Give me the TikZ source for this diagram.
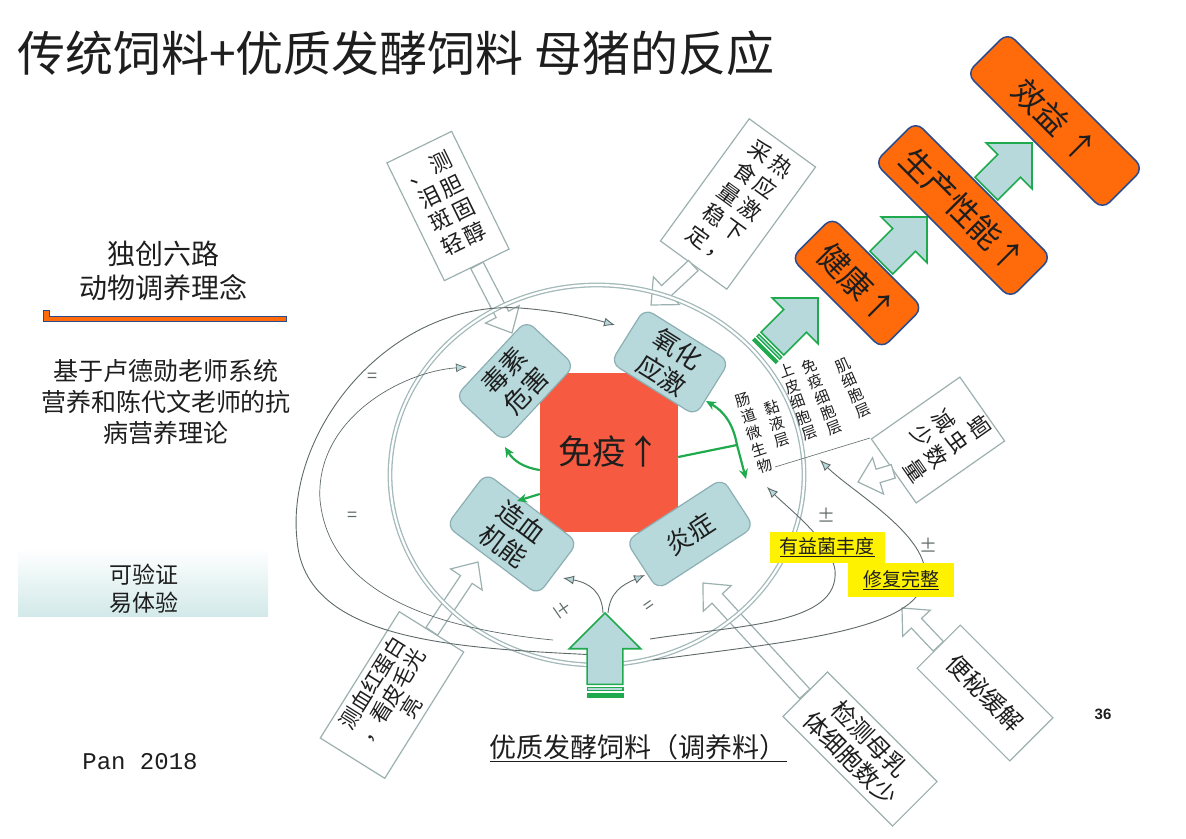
\documentclass[tikz,border=0pt]{standalone}
\usepackage{fontspec}
\setmainfont{Noto Sans CJK SC}
\newfontfamily\monofont{Liberation Mono}
\newfontfamily\numfont{Liberation Sans}
\usetikzlibrary{arrows.meta,calc,positioning}
\definecolor{textblack}{HTML}{1E1E1E}
\definecolor{boxfill}{HTML}{B7D9DC}
\definecolor{boxdraw}{HTML}{8CAFB3}
\definecolor{ringcol}{HTML}{A3B9BA}
\definecolor{callgray}{HTML}{9DB0B0}
\definecolor{curvegray}{HTML}{5F6969}
\definecolor{arrowgreen}{HTML}{1FAA4E}
\definecolor{immunered}{HTML}{F65A40}
\definecolor{outorange}{HTML}{FF6A0A}
\definecolor{outnavy}{HTML}{2B4C8C}
\definecolor{tealfade}{HTML}{D3E9E9}

% hollow block arrow from a callout box to its target
\newcommand{\calloutarrow}[2]{%
  \coordinate (#2-base) at ($(#2)!21pt!(#1)$);
  \draw[callshape] ($(#1)!7pt!90:(#2)$) -- ($(#2-base)!7pt!-90:(#1)$) -- ($(#2-base)!19pt!-90:(#1)$)
    -- (#2) -- ($(#2-base)!19pt!90:(#1)$) -- ($(#2-base)!7pt!90:(#1)$) -- ($(#1)!7pt!-90:(#2)$) -- cycle;
}

\begin{document}
\begin{tikzpicture}[x=1pt, y=-1pt,
    txt/.style={text=textblack, inner sep=0pt},
    callbox/.style={draw=callgray, fill=white, line width=1.2pt, inner sep=1pt, text=textblack},
    callshape/.style={draw=callgray, fill=white, line width=1.2pt, line join=miter},
    factor/.style={rounded corners=10pt, fill=boxfill, draw=boxdraw, line width=1.2pt, align=center, text=textblack, font=\fontsize{26}{30}\selectfont},
    outcome/.style={rounded corners=10pt, fill=outorange, draw=outnavy, line width=1.5pt, rotate=-45, text=textblack, minimum height=58pt, font=\fontsize{32}{32}\selectfont},
    ring/.style={draw=ringcol, line width=1.3pt, double=white, double distance=2.2pt},
    flow/.style={draw=curvegray, line width=0.9pt, -{Latex[length=11pt,width=9pt,fill=boxfill]}},
    greenline/.style={draw=arrowgreen, line width=2.2pt},
    greenarrow/.style={greenline, -{Stealth[length=10pt,width=9pt]}},
    layerlbl/.style={align=center, inner sep=0pt, text=textblack, font=\fontsize{15}{16.5}\selectfont},
    signlbl/.style={text=curvegray, inner sep=0pt, font=\fontsize{18}{18}\selectfont},
    hilite/.style={fill=yellow, text=textblack, minimum width=115pt, minimum height=31pt, font=\fontsize{19}{19}\selectfont},
    stripe arrow/.pic={
      \draw[draw=arrowgreen, fill=boxfill, line width=1.6pt] (0,0) -- (-34,34) -- (-34,17) -- (-68,17) -- (-68,-17) -- (-34,-17) -- (-34,-34) -- cycle;
      \draw[draw=arrowgreen, fill=boxfill, line width=1.3pt] (-71,17) rectangle (-74,-17);
      \draw[draw=arrowgreen, fill=arrowgreen, line width=1.3pt] (-77,17) rectangle (-80,-17);
    }
]
\useasboundingbox (0,0) rectangle (1186,838);

% title and side notes
\node[txt, anchor=west, font=\fontsize{48}{48}\selectfont] (title) at (17,53) {传统饲料+优质发酵饲料 母猪的反应};
\node[txt, align=center, font=\fontsize{28}{34}\selectfont] (idea) at (163,271) {独创六路\\动物调养理念};
\draw[fill=outorange, draw=outnavy, line width=0.8pt] (43,310) -- (43,321) -- (286,321) -- (286,316) -- (49,316) -- (49,310) -- cycle;
\node[txt, align=center, font=\fontsize{25}{31}\selectfont] (theory) at (166,402) {基于卢德勋老师系统\\营养和陈代文老师的抗\\病营养理论};
\shade[top color=white, bottom color=tealfade] (18,548) rectangle (268,616);
\node[txt, align=center, font=\fontsize{23}{28}\selectfont] (verify) at (144,589) {可验证\\易体验};
\node[txt, font=\monofont\fontsize{24}{24}\selectfont] (year) at (140,762) {Pan 2018};
\node[txt, font=\numfont\bfseries\fontsize{15}{15}\selectfont] (page) at (1103,714) {36};

% callout boxes
\node[callbox, rotate=26, minimum width=72pt, minimum height=131pt, font=\fontsize{22}{26}\selectfont] (lipid) at (448,206)
  {\begin{tabular}{@{}c@{\hspace{3pt}}c@{}}、&测\\泪&胆\\斑&固\\轻&醇\end{tabular}};
\coordinate (lipidtip) at (512,333);
\calloutarrow{lipid.south}{lipidtip}

\node[callbox, rotate=-36, minimum width=82pt, minimum height=151pt, font=\fontsize{22}{26}\selectfont] (heat) at (738,204)
  {\begin{tabular}{@{}c@{\hspace{3pt}}c@{}}采&热\\食&应\\量&激\\稳&下\\定&，\end{tabular}};
\coordinate (heattip) at (651,305);
\calloutarrow{heat.south}{heattip}

\node[callbox, rotate=-55, minimum width=78pt, minimum height=108pt, font=\fontsize{22}{25}\selectfont] (worm) at (938,440)
  {\begin{tabular}{@{}c@{\hspace{3pt}}c@{}}&蛔\\减&虫\\少&数\\&量\end{tabular}};
\coordinate (wormtip) at (858,482);
\calloutarrow{worm.south}{wormtip}

\node[callbox, rotate=58, minimum width=149pt, minimum height=76pt, align=center, font=\fontsize{21}{23}\selectfont] (blood) at (392,695)
  {测血红蛋白\\，看皮毛光\\亮};
\coordinate (bloodtip) at (478,562);
\calloutarrow{blood.east}{bloodtip}

\node[callbox, rotate=-45, minimum width=155pt, minimum height=63pt, align=center, font=\fontsize{24}{28}\selectfont] (milk) at (860,749)
  {检测母乳\\体细胞数少};
\coordinate (milktip) at (703,583);
\calloutarrow{milk.west}{milktip}

\node[callbox, rotate=-45, minimum width=131pt, minimum height=61pt, font=\fontsize{24}{24}\selectfont] (bowel) at (985,693) {便秘缓解};
\coordinate (boweltip) at (902,608);
\calloutarrow{bowel.west}{boweltip}

% body ring
\draw[ring] (597,475) ellipse [x radius=207pt, y radius=190pt];

% feedback curves
\coordinate (feedL1) at (598,655);
\coordinate (feedL2) at (553,640);
\coordinate (feedR1) at (650,639);
\coordinate (feedR2) at (653,660);
\coordinate (feedtip) at (603,613);
\coordinate (oxiin) at (615,325);
\coordinate (toxin) at (467,367);
\coordinate (gutin1) at (767,487);
\coordinate (gutin2) at (820,460);
\coordinate (hemain) at (563,578);
\coordinate (inflin) at (645,575);
\draw[flow] (feedL1) .. controls (450,648) and (305,640) .. (297,540) .. controls (285,430) and (390,300) .. (520,308) .. controls (560,311) and (590,318) .. (oxiin);
\draw[flow, line width=0.7pt] (feedL2) .. controls (450,630) and (330,600) .. (320,500) .. controls (315,420) and (400,372) .. (toxin);
\draw[flow] (feedR1) .. controls (740,625) and (840,625) .. (835,570) .. controls (830,540) and (790,510) .. (gutin1);
\draw[flow] (feedR2) .. controls (800,640) and (930,630) .. (925,570) .. controls (920,530) and (850,490) .. (gutin2);
\draw[flow] (feedtip) .. controls (602,592) and (590,583) .. (hemain);
\draw[flow] ([xshift=5pt]feedtip) .. controls (610,592) and (622,585) .. (inflin);

\node[signlbl] (eqa) at (372,378) {=};
\node[signlbl] (eqb) at (352,517) {=};
\node[signlbl, rotate=-55] (pma) at (563,610) {±};
\node[signlbl, rotate=35] (eqc) at (650,607) {=};
\node[signlbl] (pmb) at (826,515) {±};
\node[signlbl] (pmc) at (928,545) {±};

% immune core and its four factors
\node[fill=immunered, minimum width=138pt, minimum height=159pt, inner sep=0pt, text=textblack, font=\fontsize{34}{34}\selectfont] (immune) at (609,452) {免疫↑};
\node[factor, rotate=47, minimum width=104pt, minimum height=66pt] (toxic) at (515,381) {毒素\\危害};
\node[factor, rotate=-32, minimum width=100pt, minimum height=64pt] (oxid) at (670,362) {氧化\\应激};
\node[factor, rotate=-37, minimum width=115pt, minimum height=66pt] (hema) at (512,534) {造血\\机能};
\node[factor, rotate=33, minimum width=115pt, minimum height=58pt] (infl) at (690,534) {炎症};

\coordinate (g1end) at (505,447);
\coordinate (g2end) at (517,501);
\coordinate (ghub) at (737,445);
\coordinate (g3up) at (706,401);
\coordinate (g3down) at (746,479);
\draw[greenarrow] ([yshift=-18pt]immune.west) to[bend left=25] (g1end);
\draw[greenarrow] ([yshift=-42pt]immune.west) -- (g2end);
\draw[greenline] ([yshift=-5pt]immune.east) -- (ghub);
\draw[greenarrow] (ghub) to[bend right=25] (g3up);
\draw[greenarrow] (ghub) -- (g3down);

% gut wall layers
\node[layerlbl, rotate=18, font=\fontsize{15}{17.5}\selectfont] (microbe) at (754,433) {肠\\道\\微\\生\\物};
\node[layerlbl, rotate=18] (mucus) at (777,424) {黏\\液\\层};
\node[layerlbl, rotate=20] (epith) at (798,402) {上\\皮\\细\\胞\\层};
\node[layerlbl, rotate=22] (immcell) at (822,397) {免\\疫\\细\\胞\\层};
\node[layerlbl, rotate=24] (muscle) at (853,388) {肌\\细\\胞\\层};
\draw[draw=curvegray, line width=0.6pt] (775,467) -- (870,438);

\node[hilite] (flora) at (827,547) {\underline{有益菌丰度}};
\node[hilite, minimum width=106pt, minimum height=34pt] (repair) at (901,580) {\underline{修复完整}};

% feed input
\pic[rotate=90, scale=1.05] at (605,613) {stripe arrow};
\node[txt, font=\fontsize{27}{27}\selectfont] (feedlbl) at (638,748) {\underline{优质发酵饲料（调养料）}};

% outcome chain
\pic[rotate=45, scale=0.95] at (818,298) {stripe arrow};
\pic[rotate=45, scale=0.95] at (927,217) {stripe arrow};
\pic[rotate=45, scale=0.95] at (1032,143) {stripe arrow};
\node[outcome, minimum width=128pt] (health) at (857,283) {健康↑};
\node[outcome, minimum width=192pt] (perform) at (963,210) {生产性能↑};
\node[outcome, minimum width=192pt] (benefit) at (1055,121) {效益 ↑};
\end{tikzpicture}
\end{document}
